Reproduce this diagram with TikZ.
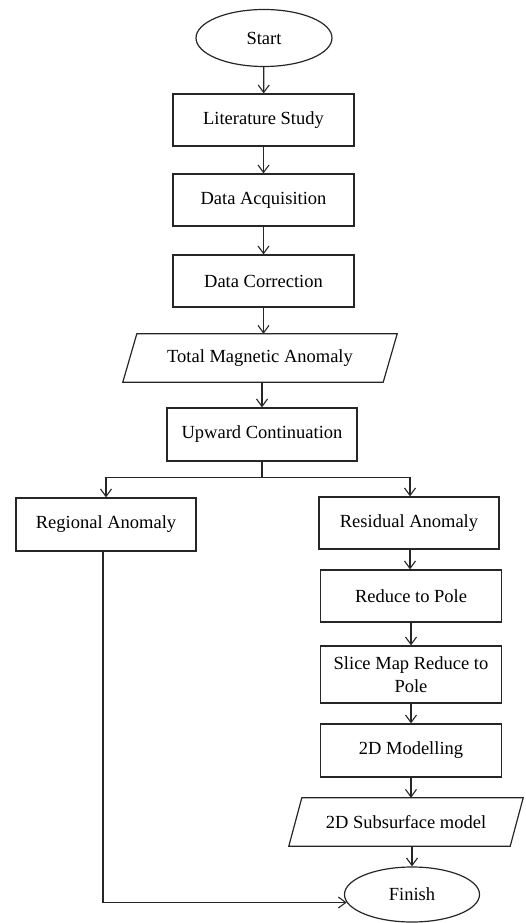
\documentclass[tikz,border=0pt]{standalone}
\usepackage{fontspec}
\setmainfont{Liberation Serif}
\usetikzlibrary{shapes.geometric,arrows.meta,calc}

\tikzset{
  x=1pt, y=1pt,
  every node/.style={font=\fontsize{18.5}{23}\selectfont, inner sep=2pt},
  line/.style={line width=1.2pt, draw=black!85},
  arr/.style={line, -{Straight Barb[length=7.5pt,width=11pt,line width=1.1pt]}},
  procbox/.style={rectangle, line, minimum width=181pt, minimum height=52pt},
  term/.style={ellipse, line, minimum width=136pt, minimum height=57pt, inner sep=0pt},
  iobox/.style={rectangle, minimum height=48pt, inner sep=0pt},
}

% parallelogram outline around a named io node (#1 = node, #2 = half slant)
\newcommand{\ioframe}[2]{%
  \draw[line] ([xshift=#2]#1.north west) -- ([xshift=#2]#1.north east)
    -- ([xshift=-#2]#1.south east) -- ([xshift=-#2]#1.south west) -- cycle;}

\begin{document}
\begin{tikzpicture}
\useasboundingbox (0,0) rectangle (525,-923);

% main column
\node[term] (start) at (264,-38) {Start};
\node[procbox] (lit) at (263.5,-120) {Literature Study};
\node[procbox] (acq) at (263.5,-200) {Data Acquisition};
\node[procbox] (corr) at (263.5,-281) {Data Correction};
\node[iobox, minimum width=260pt] (tma) at (260,-358) {Total Magnetic Anomaly};
\ioframe{tma}{7pt}
\node[procbox, minimum width=190pt, minimum height=53pt] (up) at (262,-434.5) {Upward Continuation};

% branches
\node[procbox, minimum width=180pt, minimum height=53pt] (reg) at (106,-524.5) {Regional Anomaly};
\node[procbox, minimum width=180pt] (res) at (409,-523) {Residual Anomaly};
\node[procbox] (rtp) at (411,-596) {Reduce to Pole};
\node[procbox, minimum height=57pt, align=center] (slice) at (411,-674.5) {Slice Map Reduce to\\Pole};
\node[procbox, minimum height=53pt] (mod) at (411,-750.5) {2D Modelling};
\node[iobox, minimum width=221pt] (sub) at (406,-822) {2D Subsurface model};
\ioframe{sub}{6.5pt}
\node[term, minimum width=135pt, minimum height=55pt] (fin) at (412,-894.5) {Finish};

% connectors
\draw[arr] (start) -- (lit);
\draw[arr] (lit) -- (acq);
\draw[arr] (acq) -- (corr);
\draw[arr] (corr.south) -- (corr.south |- tma.north);
\draw[arr] (tma.south -| up.north) -- (up.north);
\coordinate (split) at ($(up.south)+(0,-16)$);
\draw[line] (up.south) -- (split);
\draw[arr] (split) -| (reg.north);
\draw[arr] (split) -| ([xshift=1pt]res.north);
\draw[arr] ([xshift=1pt]res.south) -- ([xshift=1pt]res.south |- rtp.north);
\draw[arr] (rtp) -- (slice);
\draw[arr] (slice) -- (mod);
\draw[arr] (mod.south) -- (mod.south |- sub.north);
\draw[arr] (sub.south -| fin.north) -- (fin.north);
\draw[arr] ([xshift=-3pt]reg.south) |- (fin.187);
\end{tikzpicture}
\end{document}
